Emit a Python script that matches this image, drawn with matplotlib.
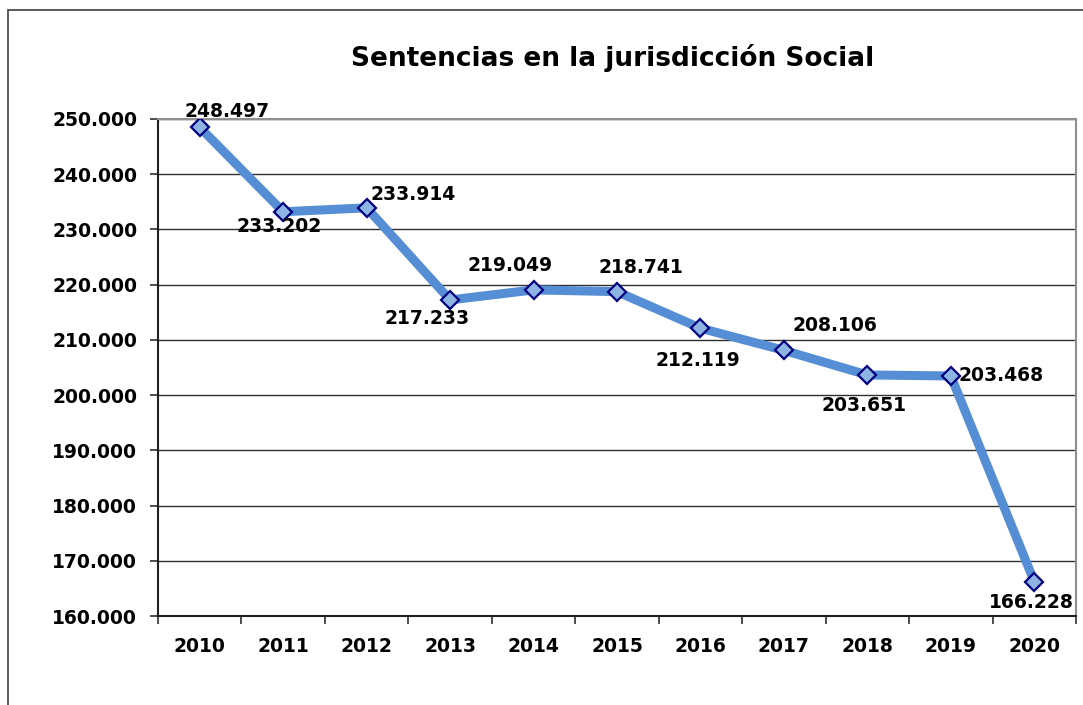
import matplotlib
matplotlib.use("Agg")
import matplotlib.pyplot as plt
from matplotlib.patches import Rectangle
from matplotlib.ticker import FuncFormatter, MultipleLocator

years = ["2010", "2011", "2012", "2013", "2014", "2015",
         "2016", "2017", "2018", "2019", "2020"]
sentencias = [248497, 233202, 233914, 217233, 219049, 218741,
              212119, 208106, 203651, 203468, 166228]

# label offsets (pixels) from each point, per year
label_offsets = [(27, 16), (-4, -15), (46, 13), (-23, -19), (-23, 24), (24, 24),
                 (-3, -32), (51, 25), (-3, -31), (50, 0), (-3, -21)]


def thousands(value, _pos=None):
    return f"{value:,.0f}".replace(",", ".")


plt.rcParams["font.family"] = "DejaVu Sans"
plt.rcParams["font.weight"] = "bold"

fig = plt.figure(figsize=(10.83, 7.05), dpi=100)
fig.patches.append(Rectangle((8 / 1083, -0.1), 1.2, 1 - 10 / 705 + 0.1,
                             transform=fig.transFigure, fill=False,
                             edgecolor="#404040", linewidth=1.2))

ax = fig.add_axes([158 / 1083, 1 - 616 / 705, (1076 - 158) / 1083, (616 - 119) / 705])
x = list(range(len(years)))

ax.plot(x, sentencias, color="#558ED5", linewidth=6.5, solid_joinstyle="miter",
        marker="D", markersize=9.5, markerfacecolor="#8EB4E3",
        markeredgecolor="#000080", markeredgewidth=1.6, zorder=3)

for xi, value, (dx, dy) in zip(x, sentencias, label_offsets):
    ax.annotate(thousands(value), (xi, value), xytext=(dx, dy),
                textcoords="offset pixels", ha="center", va="center",
                fontsize=13.5, fontweight="bold", zorder=4)

ax.set_xlim(-0.5, len(years) - 0.5)
ax.set_ylim(160000, 250000)
ax.yaxis.set_major_locator(MultipleLocator(10000))
ax.yaxis.set_major_formatter(FuncFormatter(thousands))
ax.grid(axis="y", color="#303030", linewidth=1.0)
ax.set_axisbelow(True)

ax.set_xticks(x)
ax.set_xticklabels(years)
ax.set_xticks([i - 0.5 for i in range(len(years) + 1)], minor=True)
ax.tick_params(axis="x", which="major", length=0, pad=15, labelsize=13.5)
ax.tick_params(axis="x", which="minor", length=6, width=1.2, color="#303030")
ax.tick_params(axis="y", length=6, width=1.2, pad=9, labelsize=13.5, color="#303030")
for lab in ax.get_xticklabels() + ax.get_yticklabels():
    lab.set_fontweight("bold")

ax.spines["left"].set_color("#202020")
ax.spines["bottom"].set_color("#202020")
ax.spines["left"].set_linewidth(1.5)
ax.spines["bottom"].set_linewidth(1.5)
ax.spines["top"].set_color("#909090")
ax.spines["right"].set_color("#909090")
ax.spines["top"].set_linewidth(1.5)
ax.spines["right"].set_linewidth(1.5)

fig.text(613 / 1083, 1 - 58 / 705, "Sentencias en la jurisdicción Social",
         ha="center", va="center", fontsize=19, fontweight="bold")

fig.savefig("out.png", dpi=100)
